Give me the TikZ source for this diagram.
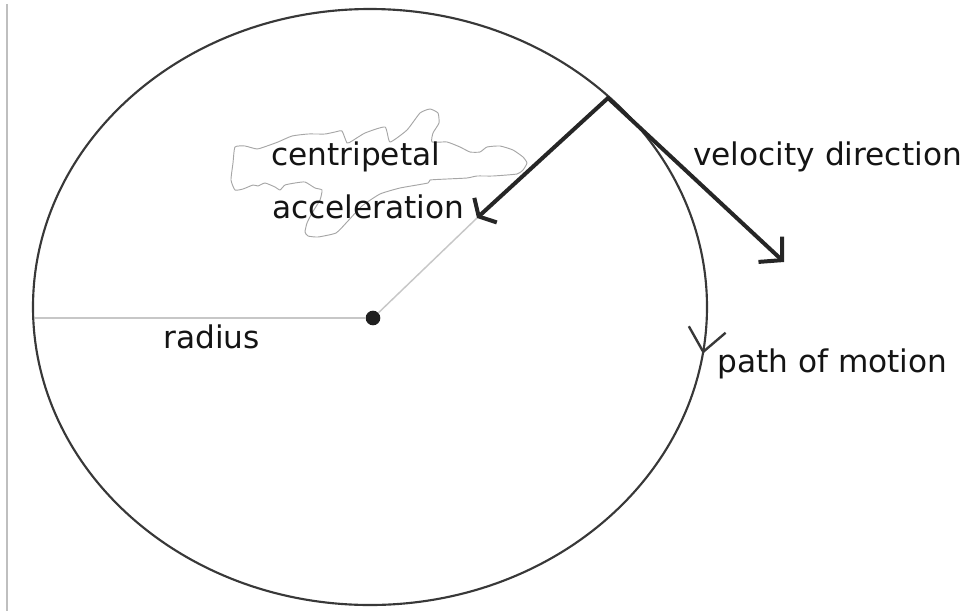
\documentclass[tikz,border=0pt]{standalone}
\usepackage{fontspec}
\setmainfont{DejaVu Sans}
\usetikzlibrary{arrows.meta,decorations.markings}
\begin{document}
\begin{tikzpicture}[x=0.75pt,y=-0.75pt,
  lbl/.style={anchor=base west, inner sep=0pt, font=\fontsize{23.4pt}{28pt}\selectfont, text=black!92},
  heavy/.style={line width=3pt, draw=black!85, line cap=round},
  guide/.style={line width=1.1pt, draw=black!22},
  orbit/.style={line width=1.6pt, draw=black!78},
  cloudline/.style={line width=0.7pt, draw=black!35, line join=round},
  frame/.style={line width=0.8pt, draw=black!25}]
\useasboundingbox (0,0) rectangle (979,611);

% left border line
\coordinate (F1) at (7,4);
\coordinate (F2) at (7,611);
\draw[frame] (F1) -- (F2);

% cloud outline behind the centripetal label
\draw[cloudline] plot[smooth cycle, tension=0.3] coordinates {
  (235,147) (245,146) (257,149) (267,146) (278,142) (292,136) (308,134)
  (325,134) (335,132) (342,131) (347,143) (352,141) (365,133) (385,127)
  (390,142) (407,130) (420,113) (430,109) (438,113) (439,123) (433,133)
  (432,142) (447,142) (460,147) (470,152) (480,152) (487,147) (500,146)
  (513,150) (523,157) (527,163) (523,170) (517,174) (493,176) (477,176)
  (467,178) (447,179) (430,180) (428,183) (400,188) (380,194) (362,206)
  (347,222) (336,233) (318,237) (308,236) (305,232) (307,223) (312,213)
  (320,200) (322,190) (315,188) (305,182) (295,183) (285,185) (280,190)
  (275,187) (265,183) (258,186) (253,185) (243,189) (235,190) (231,180)
  (233,163)};

% path of motion (ellipse) with arrow
\coordinate (C) at (370,307);
\draw[orbit, postaction={decorate},
  decoration={markings, mark=at position 0.0235 with {\arrow[line width=1.8pt]{Straight Barb[length=17pt,width=28pt]}}}]
  (C) ellipse [x radius=337, y radius=298];

% centre and radius
\node[circle, fill=black!88, inner sep=0pt, minimum size=11pt] (O) at (373,318) {};
\coordinate (L) at (35,318);
\draw[guide] (L) -- (O);

% point on the path, arrow tips
\coordinate (P) at (608,98);
\coordinate (A) at (477,218);
\coordinate (V) at (784,262);
\draw[guide] (O) -- (A);
\draw[heavy, -{Straight Barb[length=7pt,width=25pt]}] (P) -- (A);
\draw[heavy, -{Straight Barb[length=12pt,width=26pt]}] (P) -- (V);

% labels
\node[lbl] (t1) at (271,165) {centripetal};
\node[lbl] (t2) at (272,218) {acceleration};
\node[lbl] (t3) at (693,165) {velocity direction};
\node[lbl] (t4) at (163,348) {radius};
\node[lbl] (t5) at (717,372) {path of motion};
\end{tikzpicture}
\end{document}
